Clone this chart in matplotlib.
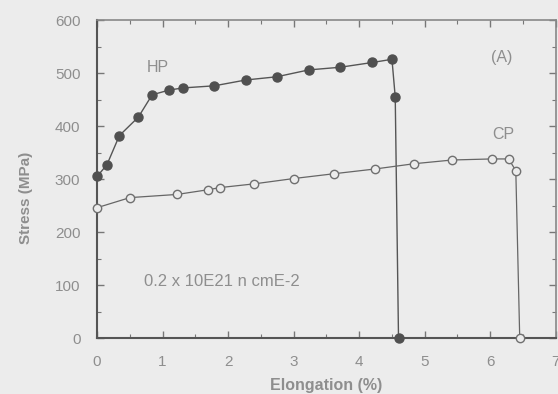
import matplotlib.pyplot as plt
from matplotlib.ticker import MultipleLocator

plt.rcParams['font.family'] = ['Liberation Sans', 'DejaVu Sans']

# HP curve (elongation %, stress MPa)
hp_x = [0.0, 0.15, 0.34, 0.63, 0.84, 1.10, 1.31, 1.79, 2.27, 2.74, 3.23, 3.71, 4.20, 4.50, 4.55, 4.60]
hp_y = [305, 327, 382, 417, 459, 468, 472, 476, 487, 493, 506, 511, 520, 526, 455, 0]

# CP curve
cp_x = [0.0, 0.50, 1.22, 1.70, 1.88, 2.40, 3.00, 3.61, 4.24, 4.84, 5.42, 6.02, 6.28, 6.39, 6.45]
cp_y = [246, 265, 271, 280, 284, 291, 301, 310, 319, 329, 336, 338, 338, 316, 0]

bg = '#ececec'
line_c = '#555555'
text_c = '#8e8e8e'

fig = plt.figure(figsize=(5.58, 3.94), dpi=100, facecolor=bg)
ax = fig.add_axes([0.174, 0.142, 0.822, 0.807], facecolor=bg)

ax.plot(hp_x, hp_y, color=line_c, lw=1.0, marker='o', ms=6.5,
        mfc='#505050', mec='#505050', clip_on=False, zorder=3)
ax.plot(cp_x, cp_y, color='#666666', lw=0.9, marker='o', ms=6,
        mfc=bg, mec='#707070', mew=1.0, clip_on=False, zorder=3)

ax.set_xlim(0, 7)
ax.set_ylim(0, 600)
ax.xaxis.set_major_locator(MultipleLocator(1))
ax.xaxis.set_minor_locator(MultipleLocator(0.5))
ax.yaxis.set_major_locator(MultipleLocator(100))
ax.yaxis.set_minor_locator(MultipleLocator(50))
ax.tick_params(which='both', direction='in', top=True, right=True,
               colors='#777777', labelcolor=text_c, labelsize=11)
ax.tick_params(which='major', length=5, width=1)
ax.tick_params(which='minor', length=3, width=0.8)
ax.tick_params(axis='x', pad=12)
ax.tick_params(axis='y', pad=12)

for s in ['left', 'bottom']:
    ax.spines[s].set_color('#555555')
    ax.spines[s].set_linewidth(1.5)
for s in ['top', 'right']:
    ax.spines[s].set_color('#888888')
    ax.spines[s].set_linewidth(1.2)

ax.set_xlabel('Elongation (%)', color=text_c, fontsize=11.5, fontweight='bold', labelpad=7)
ax.set_ylabel('Stress (MPa)', color=text_c, fontsize=11, fontweight='bold', labelpad=10)
ax.yaxis.set_label_coords(-0.14, 0.44)

ax.text(0.93, 511, 'HP', color=text_c, fontsize=11.5, ha='center', va='center')
ax.text(6.2, 385, 'CP', color=text_c, fontsize=11.5, ha='center', va='center')
ax.text(6.17, 530, '(A)', color=text_c, fontsize=11.5, ha='center', va='center')
ax.text(0.72, 107, '0.2 x 10E21 n cmE-2', color=text_c, fontsize=12, va='center')

fig.savefig('out.png', dpi=100, facecolor=bg)
